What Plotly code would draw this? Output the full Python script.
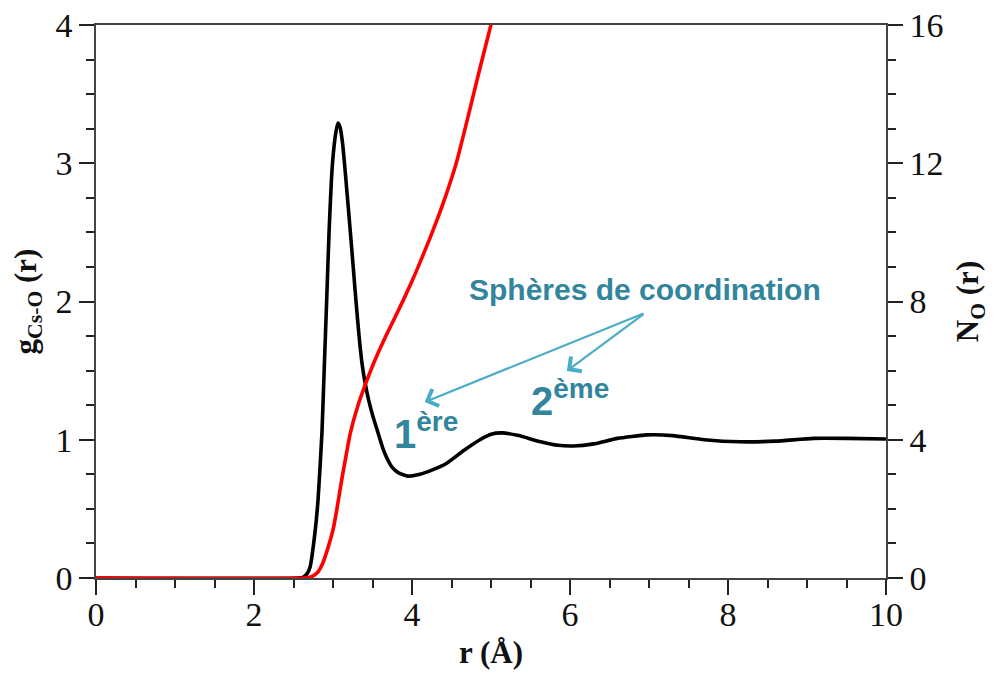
import plotly.graph_objects as go

# g_Cs-O(r) radial distribution function (left axis)
r_g = [0, 2.55, 2.62, 2.67, 2.71, 2.77, 2.81, 2.86, 2.89, 2.92, 2.95, 2.99, 3.03, 3.06, 3.09,
       3.12, 3.15, 3.22, 3.29, 3.33, 3.37, 3.41, 3.45, 3.5, 3.57, 3.63, 3.68, 3.75, 3.83, 3.95,
       4.1, 4.25, 4.44, 4.65, 4.86, 5.0, 5.14, 5.35, 5.6, 5.85, 6.04, 6.3, 6.6, 6.97, 7.3, 7.7,
       8.15, 8.6, 9.08, 9.5, 10]
g_val = [0, 0, 0.005, 0.03, 0.08, 0.32, 0.56, 1.05, 1.53, 2.01, 2.5, 2.97, 3.2, 3.29, 3.26,
         3.15, 2.97, 2.5, 2.01, 1.75, 1.54, 1.4, 1.29, 1.18, 1.05, 0.94, 0.87, 0.8, 0.76, 0.737,
         0.75, 0.78, 0.83, 0.92, 1.0, 1.04, 1.05, 1.03, 0.99, 0.96, 0.955, 0.97, 1.01, 1.035, 1.03, 1.0,
         0.985, 0.99, 1.01, 1.01, 1.005]

# N_O(r) running coordination number (right axis)
r_n = [0, 2.65, 2.72, 2.8, 2.87, 2.94, 3.0, 3.05, 3.11, 3.17, 3.22, 3.31, 3.41, 3.54, 3.68,
       3.89, 4.05, 4.23, 4.38, 4.56, 4.71, 4.86, 5.01]
n_val = [0, 0, 0.03, 0.15, 0.43, 0.9, 1.39, 2.0, 2.84, 3.6, 4.2, 4.95, 5.6, 6.35, 7.05,
         8.04, 8.85, 9.85, 10.75, 12.0, 13.35, 14.75, 16.1]

x_ticks = [0, 2, 4, 6, 8, 10]
y1_ticks = [0, 1, 2, 3, 4]
y2_ticks = [0, 4, 8, 12, 16]

TEXT_C = "#31859C"
ARROW_C = "#4BACC6"
SERIF = "Liberation Serif, Times New Roman, serif"
SANS = "Liberation Sans, Arial, sans-serif"
TICKFONT = dict(family=SERIF, size=34, color="#111111")
TITLEFONT = dict(family=SERIF, size=31, color="#111111")

fig = go.Figure()
fig.add_trace(go.Scatter(x=r_n, y=n_val, mode="lines", yaxis="y2",
                         line=dict(color="#FF0000", width=3.6, shape="spline", smoothing=0.5),
                         hoverinfo="skip"))
fig.add_trace(go.Scatter(x=r_g, y=g_val, mode="lines", yaxis="y",
                         line=dict(color="#000000", width=3.6, shape="spline", smoothing=0.5),
                         hoverinfo="skip"))

common = dict(showline=True, linecolor="#444444", linewidth=1.5, showgrid=False, zeroline=False,
              ticks="outside", ticklen=15, tickwidth=1.8, tickcolor="#222222", automargin=False)

fig.update_layout(
    width=994, height=675,
    margin=dict(l=96, r=108, t=25, b=97),
    paper_bgcolor="white", plot_bgcolor="white",
    font=dict(family=SERIF, size=29, color="#111111"),
    showlegend=False,
    xaxis=dict(range=[0, 10], tickvals=x_ticks, mirror=True, tickfont=TICKFONT,
               ticklabelstandoff=-10,
               minor=dict(dtick=0.5, ticks="outside", ticklen=8, tickwidth=1.5, tickcolor="#222222"),
               title=dict(text="<b>r (Å)</b>", font=TITLEFONT, standoff=10),
               **common),
    yaxis=dict(range=[0, 4], tickvals=y1_ticks, tickfont=TICKFONT,
               minor=dict(dtick=0.25, ticks="outside", ticklen=8, tickwidth=1.5, tickcolor="#222222"),
               title=dict(text="<b>g<sub>Cs-O</sub> (r)</b>", font=TITLEFONT, standoff=10),
               **common),
    yaxis2=dict(range=[0, 16], tickvals=y2_ticks, overlaying="y", side="right", tickfont=TICKFONT,
                minor=dict(dtick=1, ticks="outside", ticklen=8, tickwidth=1.5, tickcolor="#222222"),
                title=dict(text="<b>N<sub>O</sub> (r)</b>", font=TITLEFONT, standoff=14),
                **common),
)

# Annotation text
fig.add_annotation(x=6.95, y=2.09, xref="x", yref="y", text="<b>Sphères de coordination</b>",
                   showarrow=False, font=dict(family=SANS, size=30, color=TEXT_C))
fig.add_annotation(x=4.18, y=1.06, xref="x", yref="y", text="<b>1<sup>ère</sup></b>",
                   showarrow=False, font=dict(family=SANS, size=40, color=TEXT_C))
fig.add_annotation(x=6.0, y=1.3, xref="x", yref="y", text="<b>2<sup>ème</sup></b>",
                   showarrow=False, font=dict(family=SANS, size=40, color=TEXT_C))

# Arrows
for hx, hy in [(4.16, 1.273), (5.96, 1.497)]:
    fig.add_annotation(x=hx, y=hy, xref="x", yref="y", ax=6.95, ay=1.917, axref="x", ayref="y",
                       text="", showarrow=True, arrowhead=4, arrowsize=1.6, arrowwidth=2.2,
                       arrowcolor=ARROW_C)

fig.write_html("out.html")
